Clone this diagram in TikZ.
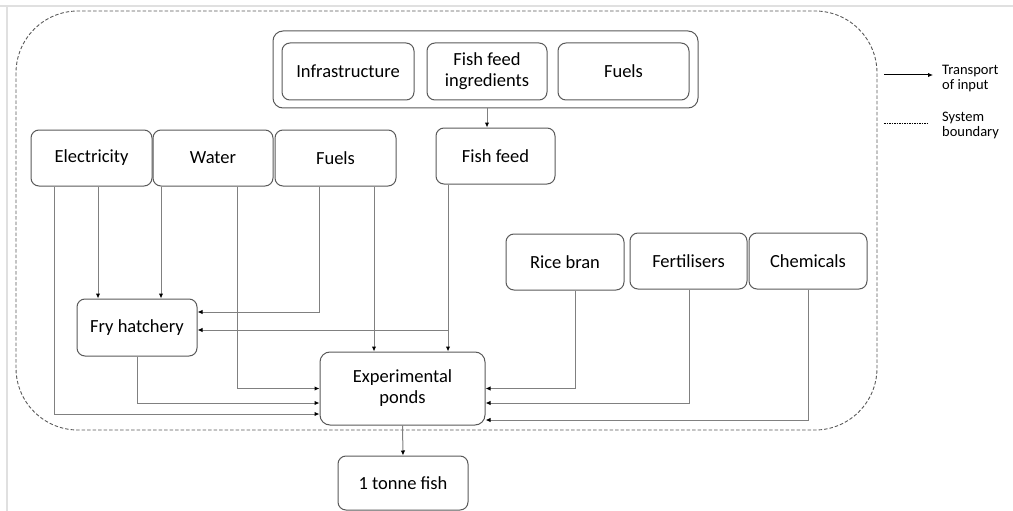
\documentclass[tikz,border=0pt]{standalone}
\usepackage{fontspec}
\setmainfont{Carlito}
\usetikzlibrary{arrows.meta}
\definecolor{boxline}{HTML}{595959}
\definecolor{flowline}{HTML}{808080}
\begin{document}
\begin{tikzpicture}[x=1pt, y=-1pt,
    inbox/.style={draw=boxline, rounded corners=8pt, line width=1pt, align=center,
      minimum height=56pt, font=\fontsize{18.5}{21}\selectfont, inner sep=0pt},
    flow/.style={draw=flowline, line width=1pt, -{Latex[length=5pt,width=4.5pt,color=black]}},
    legtext/.style={anchor=west, align=left, inner sep=0pt, font=\fontsize{14.5}{15}\selectfont}]
  \useasboundingbox (0,0) rectangle (1013,511);
  % screenshot frame
  \draw[black!12, line width=1.5pt] (0,6) -- (1013,6);
  \draw[black!12, line width=1.5pt] (7,6) -- (7,511);

  % system boundary
  \draw[black!65, line width=0.9pt, dash pattern=on 3.5pt off 2pt, rounded corners=62pt] (16,11) rectangle (877,430);

  % inputs of the fish feed
  \node[inbox, minimum width=425pt, minimum height=77pt, rounded corners=10pt] (grp) at (485.5,69.5) {};
  \node[inbox, minimum width=132pt, minimum height=57pt] (infra) at (348,71.5) {Infrastructure};
  \node[inbox, minimum width=120pt, minimum height=57pt] (ingr) at (487,71.5) {Fish feed\\ingredients};
  \node[inbox, minimum width=131pt, minimum height=57pt] (tfuel) at (623.5,71.5) {Fuels};

  % inputs
  \node[inbox, minimum width=119pt] (feed) at (495.5,156) {Fish feed};
  \node[inbox, minimum width=121pt] (elec) at (91.5,158) {Electricity};
  \node[inbox, minimum width=120pt] (water) at (213,158) {Water};
  \node[inbox, minimum width=121pt] (fuel) at (335.5,158) {Fuels};
  \node[inbox, minimum width=118pt] (rice) at (565,262) {Rice bran};
  \node[inbox, minimum width=117pt] (fert) at (688.5,261) {Fertilisers};
  \node[inbox, minimum width=118pt] (chem) at (808,261) {Chemicals};

  % processes and output
  \node[inbox, minimum width=120pt, minimum height=57pt] (fry) at (137,327.5) {Fry hatchery};
  \node[inbox, minimum width=165pt, minimum height=73pt, rounded corners=10pt] (pond) at (402.5,388.5) {Experimental\\ponds};
  \node[inbox, minimum width=130pt, minimum height=54pt] (fish) at (403,483) {1 tonne fish};

  \draw[flow] (grp.south -| ingr.south) -- (feed.north -| ingr.south);

  \draw[flow] ([xshift=-37.5pt]elec.south) |- ([yshift=-25.5pt]pond.west);
  \draw[flow] ([xshift=6.5pt]elec.south) -- ([xshift=6.5pt]elec.south |- fry.north);
  \draw[flow] ([xshift=-52pt]water.south) -- ([xshift=-52pt]water.south |- fry.north);
  \draw[flow] ([xshift=24pt]water.south) |- (pond.west);
  \draw[flow] ([xshift=-16.5pt]fuel.south) |- ([yshift=15.5pt]fry.east);
  \draw[flow] ([xshift=38.5pt]fuel.south) -- ([xshift=38.5pt]fuel.south |- pond.north);
  \draw[flow] ([xshift=-47.5pt]feed.south) -- ([xshift=-47.5pt]feed.south |- pond.north);
  \draw[flow] ([xshift=-47.5pt,yshift=-2.5pt]feed.south |- fry.east) -- ([yshift=-2.5pt]fry.east);
  \draw[flow] (fry.south) |- ([yshift=-14.5pt]pond.west);

  \draw[flow] ([xshift=10pt]rice.south) |- (pond.east);
  \draw[flow] ([xshift=0.5pt]fert.south) |- ([yshift=-14.5pt]pond.east);
  \draw[flow] (chem.south) |- ([yshift=-31.5pt]pond.east);

  \draw[flow] (pond.south) -- (fish.north);

  % legend
  \coordinate (arrA) at (884,75);
  \coordinate (arrB) at (933,75);
  \coordinate (bndA) at (884,123);
  \coordinate (bndB) at (929,123);
  \draw[black, line width=1pt, -{Latex[length=5pt,width=4.5pt]}] (arrA) -- (arrB);
  \draw[black, line width=0.7pt, dash pattern=on 1.5pt off 1pt] (bndA) -- (bndB);
  \node[legtext] (legT) at (942,79) {Transport\\of input};
  \node[legtext] (legS) at (942,125) {System\\boundary};
\end{tikzpicture}
\end{document}
